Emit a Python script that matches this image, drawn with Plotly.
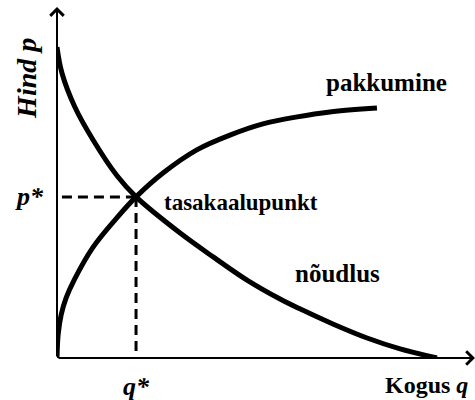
import plotly.graph_objects as go

# Demand curve (quantity, price)
demand_q = [0.0, 0.13, 0.47, 0.95, 1.58, 2.08, 3.24, 4.11, 5.0, 5.87, 6.39, 7.26, 8.16, 9.03, 10.0]
demand_p = [8.86, 8.12, 7.15, 6.21, 5.19, 4.59, 3.56, 2.88, 2.22, 1.68, 1.40, 0.97, 0.57, 0.26, 0.0]

# Supply curve (quantity, price)
supply_q = [0.0, 0.03, 0.11, 0.24, 0.45, 0.95, 1.58, 2.08, 2.79, 3.68, 4.55, 5.42, 6.32, 7.18, 8.42]
supply_p = [0.0, 0.66, 1.23, 1.71, 2.22, 3.16, 4.0, 4.59, 5.27, 5.93, 6.35, 6.67, 6.87, 7.01, 7.12]

# Equilibrium
q_star = 2.08
p_star = 4.59

x_max = 11.0
y_max = 10.0

FONT = "Liberation Serif"

fig = go.Figure()

fig.add_trace(go.Scatter(x=demand_q, y=demand_p, mode="lines",
                         line=dict(color="black", width=5, shape="spline", smoothing=1.0),
                         hoverinfo="skip", showlegend=False))
fig.add_trace(go.Scatter(x=supply_q, y=supply_p, mode="lines",
                         line=dict(color="black", width=5, shape="spline", smoothing=1.0),
                         hoverinfo="skip", showlegend=False))

# Dashed guides
fig.add_trace(go.Scatter(x=[0.13, q_star], y=[p_star, p_star], mode="lines",
                         line=dict(color="black", width=3, dash="10px,6px"),
                         hoverinfo="skip", showlegend=False))
fig.add_trace(go.Scatter(x=[q_star, q_star], y=[p_star, 0], mode="lines",
                         line=dict(color="black", width=3, dash="10px,6px"),
                         hoverinfo="skip", showlegend=False))

annotations = []
# Axes with arrows
annotations.append(dict(x=x_max, y=0, ax=0, ay=0, xref="x", yref="y", axref="x", ayref="y",
                        showarrow=True, arrowhead=4, arrowwidth=2, arrowsize=1.3, arrowcolor="black", text=""))
annotations.append(dict(x=0, y=y_max, ax=0, ay=0, xref="x", yref="y", axref="x", ayref="y",
                        showarrow=True, arrowhead=4, arrowwidth=2, arrowsize=1.3, arrowcolor="black", text=""))

def lab(text, x, y, xref="x", yref="y", xanchor="center", angle=0, size=22):
    annotations.append(dict(x=x, y=y, xref=xref, yref=yref, text=text, showarrow=False,
                            xanchor=xanchor, yanchor="middle", textangle=angle,
                            font=dict(family=FONT, size=size, color="black")))

lab("<b>pakkumine</b>", 8.66, 7.86, size=25)
lab("<b>tasakaalupunkt</b>", 2.76, 4.44, xanchor="left", size=23)
lab("<b>nõudlus</b>", 7.37, 2.42, size=25)
lab("<b><i>p*</i></b>", -0.0646, p_star / y_max, xref="paper", yref="paper", size=26)
lab("<b><i>q*</i></b>", q_star / x_max, -0.08, xref="paper", yref="paper", size=26)
lab("<b>Kogus <i>q</i></b>", 0.78, -0.077, xref="paper", yref="paper", xanchor="left", size=24)
lab("<b><i>Hind p</i></b>", -0.0718, 0.798, xref="paper", yref="paper", angle=-90, size=28)

fig.update_layout(
    width=475, height=400,
    margin=dict(l=57, r=0, t=7, b=42),
    paper_bgcolor="white", plot_bgcolor="white",
    xaxis=dict(range=[0, x_max], visible=False, fixedrange=True),
    yaxis=dict(range=[0, y_max], visible=False, fixedrange=True),
    annotations=annotations,
    showlegend=False,
)

fig.write_html("out.html", config={"displayModeBar": False},
               post_script="document.body.style.margin='0';document.body.style.overflow='hidden';")
